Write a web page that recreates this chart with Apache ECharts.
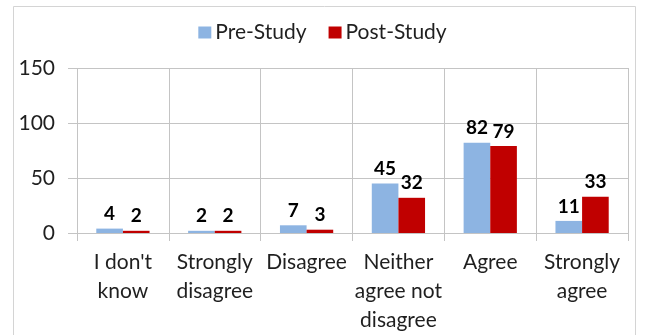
<!DOCTYPE html>
<html>
<head>
<meta charset="utf-8">
<script src="https://cdn.jsdelivr.net/npm/echarts@6/dist/echarts.min.js"></script>
<style>
  html, body { margin: 0; padding: 0; background: #fff; }
  #chart { width: 645px; height: 335px; }
</style>
</head>
<body>
<div id="chart"></div>
<script>
// Survey responses before and after the study
const categories = ["I don't\nknow", "Strongly\ndisagree", "Disagree", "Neither\nagree not\ndisagree", "Agree", "Strongly\nagree"];
const preStudy = [4, 2, 7, 45, 82, 11];
const postStudy = [2, 2, 3, 32, 79, 33];
const yTicks = { min: 0, max: 150, interval: 50 };

const FONT = 'Lato, "Open Sans", sans-serif';
const GRID_COLOR = '#c4c4c4';
const TEXT_COLOR = '#1f1f1f';

const chart = echarts.init(document.getElementById('chart'), null, { renderer: 'canvas' });

const labelStyle = {
  show: true,
  position: 'top',
  distance: 5,
  fontFamily: FONT,
  fontWeight: 'bold',
  fontSize: 19,
  color: '#000'
};

chart.setOption({
  animation: false,
  backgroundColor: '#fff',
  textStyle: { fontFamily: FONT },
  graphic: [{
    type: 'rect',
    shape: { x: 13.5, y: 6.5, width: 622, height: 340 },
    style: { fill: 'none', stroke: '#d4d4d4', lineWidth: 1 },
    silent: true
  }],
  legend: {
    top: 17,
    left: 'center',
    itemWidth: 13,
    itemHeight: 12,
    itemGap: 22,
    icon: 'rect',
    textStyle: { fontFamily: FONT, fontSize: 21, color: TEXT_COLOR, padding: [0, 0, 0, -1] },
    data: ['Pre-Study', 'Post-Study']
  },
  grid: { left: 77, right: 17, top: 68, bottom: 102, containLabel: false },
  xAxis: {
    type: 'category',
    data: categories,
    boundaryGap: true,
    axisLine: { show: true, lineStyle: { color: GRID_COLOR, width: 1 } },
    axisTick: { show: true, length: 8, alignWithLabel: false, lineStyle: { color: GRID_COLOR } },
    splitLine: { show: true, lineStyle: { color: GRID_COLOR, width: 1 } },
    axisLabel: {
      interval: 0,
      margin: 15,
      fontFamily: FONT,
      fontSize: 21,
      lineHeight: 29,
      color: TEXT_COLOR
    }
  },
  yAxis: {
    type: 'value',
    min: yTicks.min,
    max: yTicks.max,
    interval: yTicks.interval,
    axisLine: { show: false },
    axisTick: { show: true, length: 9, lineStyle: { color: GRID_COLOR } },
    splitLine: { show: true, lineStyle: { color: GRID_COLOR, width: 1 } },
    axisLabel: {
      margin: 22,
      fontFamily: FONT,
      fontSize: 21,
      color: TEXT_COLOR
    }
  },
  series: [
    {
      name: 'Pre-Study',
      type: 'bar',
      data: preStudy,
      barGap: '0%',
      barCategoryGap: '42%',
      itemStyle: { color: '#8DB4E2' },
      label: labelStyle
    },
    {
      name: 'Post-Study',
      type: 'bar',
      data: postStudy,
      barGap: '0%',
      barCategoryGap: '42%',
      itemStyle: { color: '#C00000' },
      label: labelStyle
    }
  ]
});
</script>
</body>
</html>
